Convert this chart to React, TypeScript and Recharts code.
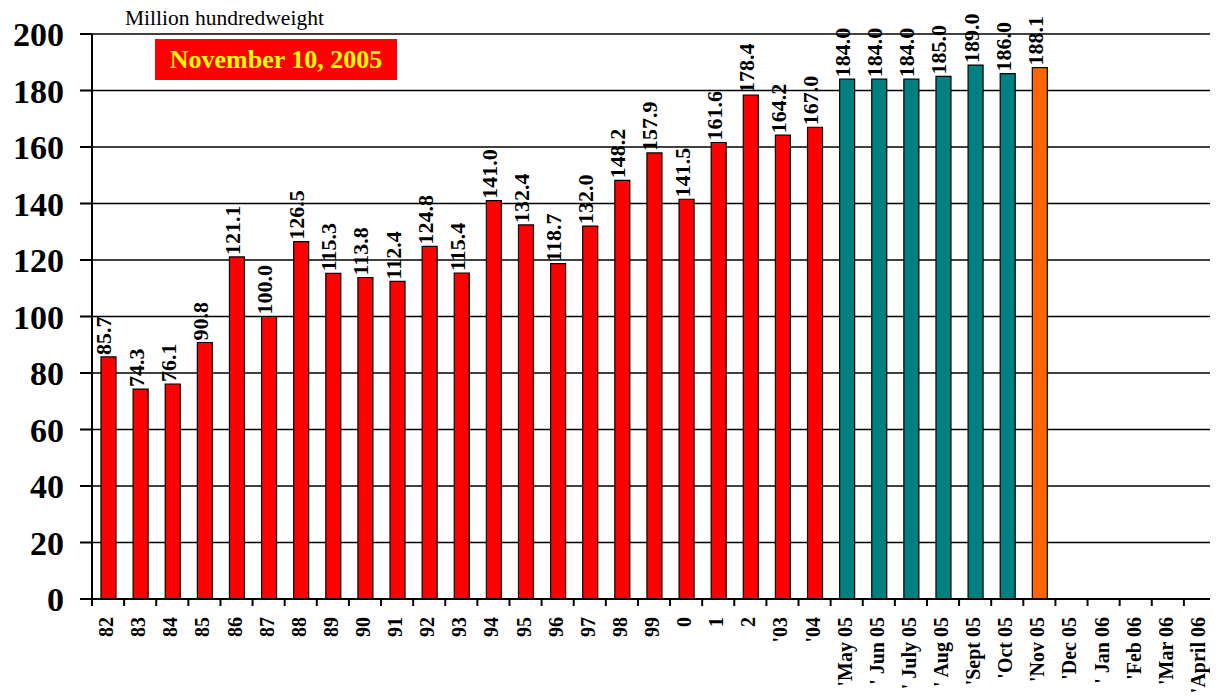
import React from "react";
import { BarChart, Bar, XAxis, YAxis, CartesianGrid, Cell, LabelList } from "recharts";

const categories = [
  "82", "83", "84", "85", "86", "87", "88", "89", "90", "91", "92", "93", "94", "95", "96", "97", "98", "99",
  "0", "1", "2", "'03", "'04",
  "'May 05", "' Jun 05", "' July 05", "' Aug 05", "'Sept 05", "'Oct 05", "'Nov 05",
  "'Dec 05", "' Jan 06", "'Feb 06", "'Mar 06", "'April 06",
];
const values: (number | null)[] = [
  85.7, 74.3, 76.1, 90.8, 121.1, 100.0, 126.5, 115.3, 113.8, 112.4, 124.8, 115.4, 141.0, 132.4, 118.7, 132.0, 148.2, 157.9,
  141.5, 161.6, 178.4, 164.2, 167.0,
  184.0, 184.0, 184.0, 185.0, 189.0, 186.0, 188.1,
  null, null, null, null, null,
];
const seriesKind = [
  "h", "h", "h", "h", "h", "h", "h", "h", "h", "h", "h", "h", "h", "h", "h", "h", "h", "h",
  "h", "h", "h", "h", "h",
  "m", "m", "m", "m", "m", "m", "c",
  "n", "n", "n", "n", "n",
];
const yTicks = [0, 20, 40, 60, 80, 100, 120, 140, 160, 180, 200];
const kindColors: Record<string, string> = { h: "#ff0000", m: "#008080", c: "#ff6600", n: "#ffffff" };

const data = categories.map((c, i) => ({ cat: c, value: values[i], kind: seriesKind[i] }));

const W = 1210;
const H = 688;
const M = { top: 26, right: 0, left: 0, bottom: 7 };
const YW = 84;
const RW = 2;
const plotW = W - M.left - M.right - YW - RW;
const band = plotW / categories.length;
const FONT = "'Liberation Serif', 'Times New Roman', serif";

const XTick = (props: any) => {
  const { x, y, payload } = props;
  const bx = x - band / 2;
  const tx = x + 5;
  const ty = y + 10;
  return (
    <g>
      <line x1={bx} y1={y - 8} x2={bx} y2={y - 1} stroke="#000" strokeWidth={2} />
      <text
        x={tx}
        y={ty}
        transform={`rotate(-90, ${tx}, ${ty})`}
        textAnchor="end"
        fontFamily={FONT}
        fontWeight="bold"
        fontSize={20}
        fill="#000"
      >
        {payload.value}
      </text>
    </g>
  );
};

const ValueLabel = (props: any) => {
  const { x, y, width, value } = props;
  if (value == null) return null;
  const cx = x + width / 2 + 3;
  const cy = y - 2;
  return (
    <text
      x={cx}
      y={cy}
      transform={`rotate(-90, ${cx}, ${cy})`}
      textAnchor="start"
      fontFamily={FONT}
      fontWeight="bold"
      fontSize={22}
      fill="#000"
    >
      {Number(value).toFixed(1)}
    </text>
  );
};

export default function App() {
  return (
    <div style={{ position: "relative", width: W, height: H }}>
      <BarChart width={W} height={H} data={data} margin={M} barSize={15}>
        <CartesianGrid horizontal vertical={false} stroke="#000" strokeWidth={1.3} />
        <XAxis
          dataKey="cat"
          interval={0}
          height={90}
          tickLine={false}
          axisLine={{ stroke: "#000", strokeWidth: 2 }}
          tick={<XTick />}
        />
        <YAxis
          width={YW}
          domain={[0, 200]}
          ticks={yTicks}
          interval={0}
          tickSize={12}
          tickMargin={16}
          tickLine={{ stroke: "#000", strokeWidth: 2 }}
          axisLine={{ stroke: "#000", strokeWidth: 2 }}
          tick={{ fontFamily: FONT, fontWeight: "bold", fontSize: 34, fill: "#000" }}
        />
        <YAxis
          yAxisId="r"
          orientation="right"
          width={RW}
          domain={[0, 200]}
          tick={false}
          tickLine={false}
          axisLine={{ stroke: "#333", strokeWidth: 2 }}
        />
        <Bar dataKey="value" isAnimationActive={false} stroke="#000" strokeWidth={1.2}>
          {data.map((d, i) => (
            <Cell key={i} fill={kindColors[d.kind]} />
          ))}
          <LabelList dataKey="value" content={<ValueLabel />} />
        </Bar>
      </BarChart>
      <div
        style={{
          position: "absolute",
          left: 117,
          top: -2,
          fontFamily: FONT,
          fontSize: 21.5,
          color: "#000",
          lineHeight: "24px",
          whiteSpace: "nowrap",
        }}
      >
        Million hundredweight
      </div>
      <div
        style={{
          position: "absolute",
          left: 147,
          top: 31,
          width: 242,
          height: 41,
          background: "#ff0000",
          color: "#ffff00",
          fontFamily: FONT,
          fontWeight: "bold",
          fontSize: 26,
          display: "flex",
          alignItems: "center",
          justifyContent: "center",
          whiteSpace: "nowrap",
        }}
      >
        November 10, 2005
      </div>
    </div>
  );
}
